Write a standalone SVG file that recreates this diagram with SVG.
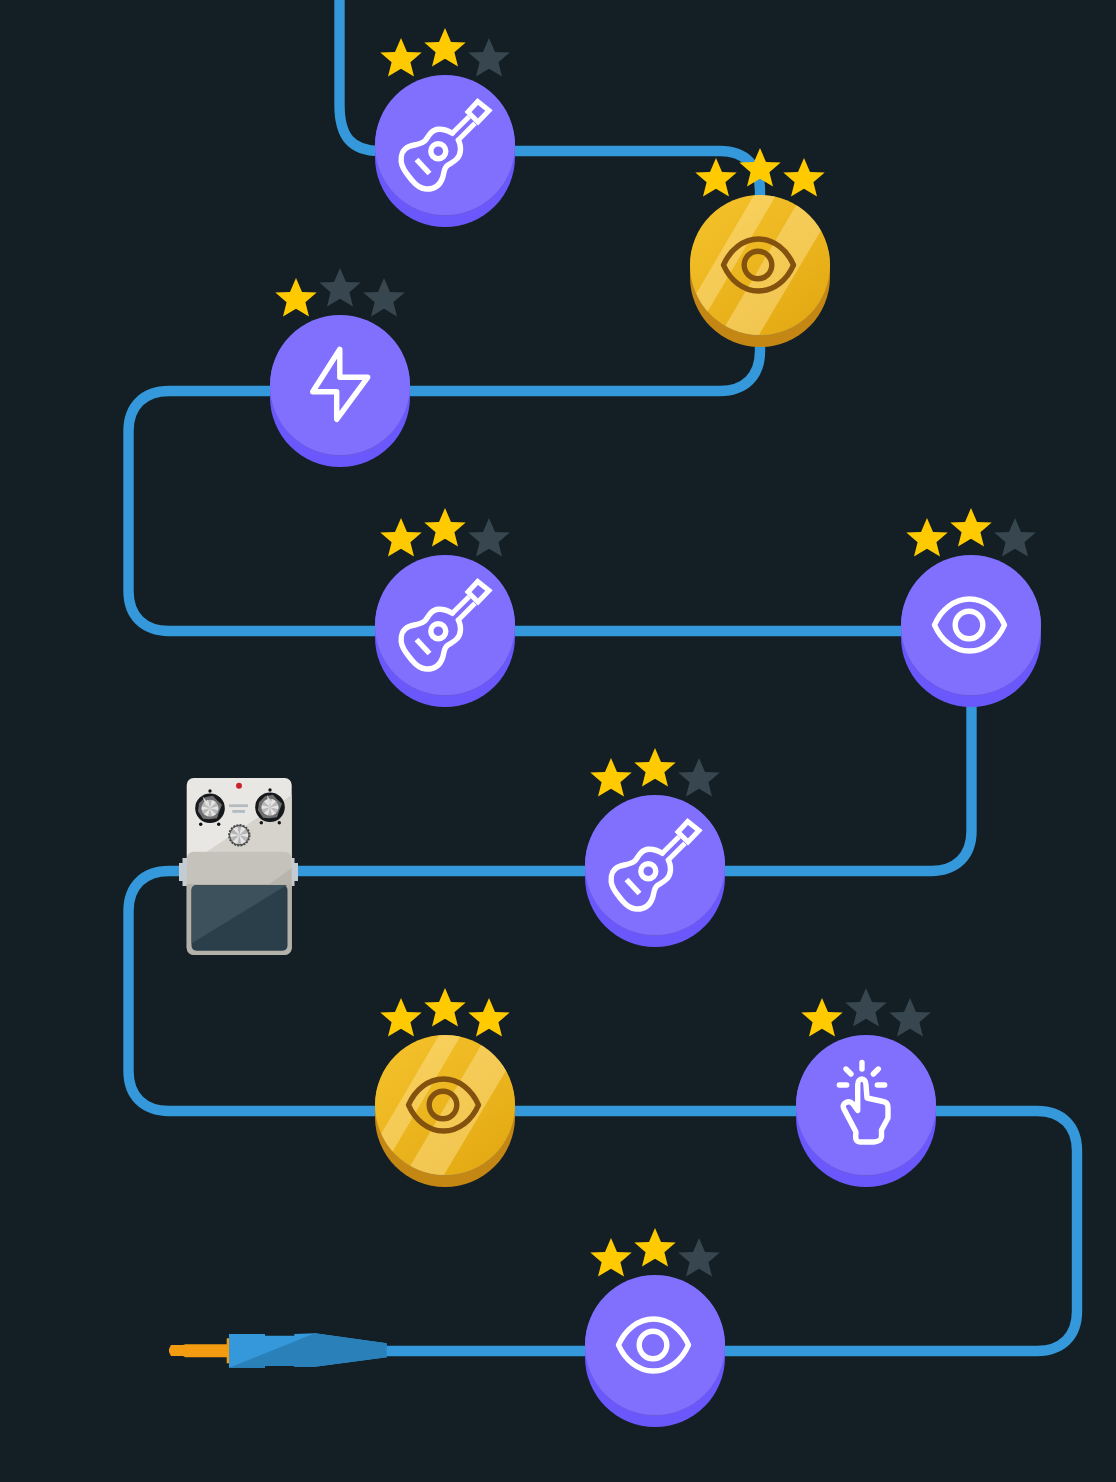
<svg xmlns="http://www.w3.org/2000/svg" width="1116" height="1482" viewBox="0 0 1116 1482">
<style>
svg{color:#fff}
.gold{color:#83520f}
.ico{fill:none;stroke:currentColor;stroke-width:5.400;stroke-linecap:round;stroke-linejoin:round}
.wire{fill:none;stroke:#3498db;stroke-width:10.400}
.on{fill:#ffcb00}.off{fill:#37464f}
.face-light{fill:#e4e4e4}
</style>
<defs>
<linearGradient id="goldFace" x1="0.15" y1="0" x2="0.85" y2="1"><stop offset="0" stop-color="#f4c22b"/><stop offset="1" stop-color="#e3a812"/></linearGradient>
<clipPath id="faceClip"><circle r="70"/></clipPath>
<polygon id="star" points="0,-21 6,-7 20.700,-6.500 9.400,3.200 13,17.500 0,9.800 -13,17.500 -9.400,3.200 -20.700,-6.500 -6,-7"/>
<g id="purpleDisc"><circle cy="12" r="70" fill="#6b58fd"/><circle cy="1" r="70" fill="#6a5ce0"/><circle r="70" fill="#8170fe"/></g>
<g id="goldDisc"><circle cy="12" r="70" fill="#c48714"/><circle cy="1" r="70" fill="#b98a2a"/><circle r="70" fill="url(#goldFace)"/>
<g clip-path="url(#faceClip)" fill="#ffe59a" fill-opacity=".45"><polygon points="0,-80 22,-80 -72,80 -94,80"/><polygon points="48,-80 88,-80 -7,80 -46,80"/></g></g>
<g id="guitar" class="ico">
<path d="M32.700,-43.500 44,-34.500 33,-23 23,-33Z" style="stroke-linejoin:miter;stroke-width:5"/>
<path d="M24,-28.300 7.300,-11.700M30,-21.700 13.300,-5" style="stroke-linecap:butt;stroke-width:5"/>
<path d="M7.300,-11.700C2,-15 -3,-16 -6.700,-15.700C-13,-15.300 -16,-10 -19.300,-5C-22,-1 -30,-0.500 -36,1.500C-42,4 -44.500,10 -43.800,16.700C-43,24 -38,29 -33.300,35C-30,39 -26,43.500 -19,44C-10,44.500 -5,40 -2.500,33C-0.500,27 -1.500,23 3,20C8,17 15,14 15.500,5C15.700,1 15,-2 13.300,-5"/>
<circle cx="-6.700" cy="6.200" r="7.500"/>
<path d="M-28.500,14.500 -15.500,28.500" style="stroke-linecap:butt"/>
</g>
<g id="eye" class="ico">
<path d="M-36.500,0C-30,-15 -17,-26 -1.500,-26C14,-26 27,-15 33.500,0C27,15 14,26 -1.500,26C-17,26 -30,15 -36.500,0Z"/>
<circle cx="-2" r="13.800"/>
</g>
<g id="knobFace">
<circle r="14.800" fill="#16191b"/>
<path d="M-5,-11 3,-12.500 6,-9 12,-3.500 9,4 7,10 -1,11 -7,10.500 -12,3 -11,-5Z" fill="#6f6f6f"/>
<circle r="8.500" fill="#b9b9b9"/>
<path class="face-light" d="M0,0 2,-8.300 6,-6ZM0,0 8.300,-2 8.300,2ZM0,0 6,6 2,8.300ZM0,0 -2,8.300 -6,6ZM0,0 -8.300,2 -8.300,-2ZM0,0 -6,-6 -2,-8.300Z"/>
</g>
</defs>
<rect width="1116" height="1482" fill="#131f24"/>

<g id="connectors">
<path class="wire" d="M339.500,0V105C339.500,136 351,151 380,151H720C745,151 760,166 760,191V351C760,376 745,391 720,391H169C144,391 128.500,406 128.500,431V591C128.500,616 144,631 169,631H931C956,631 971.500,646 971.500,671V831C971.500,856 956,871 931,871H169C144,871 128.500,886 128.500,911V1071C128.500,1096 144,1111 169,1111H1037C1062,1111 1077,1126 1077,1151V1311C1077,1336 1062,1351 1037,1351H380"/>
</g>

<g id="node-guitar-1" transform="translate(445,145)">
<use href="#purpleDisc"/><use href="#guitar"/>
<use href="#star" class="on" x="-44" y="-86"/><use href="#star" class="on" y="-96"/><use href="#star" class="off" x="44" y="-86"/>
</g>
<g id="node-eye-gold-1" class="gold" transform="translate(760,265)">
<use href="#goldDisc"/><use href="#eye"/>
<use href="#star" class="on" x="-44" y="-86"/><use href="#star" class="on" y="-96"/><use href="#star" class="on" x="44" y="-86"/>
</g>
<g id="node-bolt" transform="translate(340,385)">
<use href="#purpleDisc"/>
<path class="ico" d="M-0.200,-35.700V-7.700H27.700L-3.300,34.300V6.700H-27.300Z"/>
<use href="#star" class="on" x="-44" y="-86"/><use href="#star" class="off" y="-96"/><use href="#star" class="off" x="44" y="-86"/>
</g>
<g id="node-guitar-2" transform="translate(445,625)">
<use href="#purpleDisc"/><use href="#guitar"/>
<use href="#star" class="on" x="-44" y="-86"/><use href="#star" class="on" y="-96"/><use href="#star" class="off" x="44" y="-86"/>
</g>
<g id="node-eye-1" transform="translate(971,625)">
<use href="#purpleDisc"/><use href="#eye"/>
<use href="#star" class="on" x="-44" y="-86"/><use href="#star" class="on" y="-96"/><use href="#star" class="off" x="44" y="-86"/>
</g>
<g id="node-guitar-3" transform="translate(655,865)">
<use href="#purpleDisc"/><use href="#guitar"/>
<use href="#star" class="on" x="-44" y="-86"/><use href="#star" class="on" y="-96"/><use href="#star" class="off" x="44" y="-86"/>
</g>

<g id="node-pedal">
<rect x="179" y="863" width="119" height="18" fill="#c3ccd2"/>
<rect x="182.500" y="858" width="112" height="28" fill="#c3ccd2"/>
<rect x="186.700" y="778" width="105" height="90" rx="7" fill="#e9e7e3"/>
<path d="M291.700,795V868H186.700V865L206.700,851.700Z" fill="#d6d3cd"/>
<rect x="186.700" y="851.700" width="105" height="103" rx="7" fill="#c5c2bc"/>
<path d="M291.700,868 268,885H291.700Z" fill="#b8b5ad"/>
<path d="M186.700,884H291.700V948A7,7 0 0 1 284.700,955H193.700A7,7 0 0 1 186.700,948Z" fill="#b4b1aa"/>
<rect x="191.500" y="885" width="96" height="65.700" rx="5" fill="#2b3f4b"/>
<path d="M287,885H196.500A5,5 0 0 0 191.500,890V943.500Z" fill="#3d515c"/>
<circle cx="239" cy="785.700" r="3" fill="#c9242e"/>
<rect x="229" y="804.300" width="19" height="2.800" fill="#b4bcc2"/>
<rect x="232.300" y="810" width="12.700" height="2.800" fill="#b4bcc2"/>
<g fill="#111">
<circle cx="210" cy="791" r="1.700"/><circle cx="200.700" cy="824.300" r="1.700"/><circle cx="218.700" cy="824.300" r="1.700"/>
<circle cx="270" cy="790" r="1.700"/><circle cx="261.300" cy="822.700" r="1.700"/><circle cx="279.300" cy="822.700" r="1.700"/>
</g>
<g id="knob-left" transform="translate(210,808.300)">
<use href="#knobFace"/>
<path d="M-7.500,-12 -1,-4 -4,-2.500Z" fill="#ddd"/>
</g>
<g id="knob-right" transform="translate(270,807.300)">
<use href="#knobFace"/>
<path d="M-3,-12.500 2,-4 -1.500,-3Z" fill="#ddd"/>
</g>
<g id="knob-small" transform="translate(239.300,835.300)">
<circle r="10.200" fill="#555" stroke="#4a4a4a" stroke-width="2" stroke-dasharray="2 1.200"/>
<circle r="9" fill="#b5b5b5"/>
<path class="face-light" d="M0,0 2,-8.800 6.500,-6.500ZM0,0 8.800,-2 8.800,2ZM0,0 6.500,6.500 2,8.800ZM0,0 -2,8.800 -6.500,6.500ZM0,0 -8.800,2 -8.800,-2ZM0,0 -6.500,-6.500 -2,-8.800Z"/>
</g>
</g>

<g id="node-eye-gold-2" class="gold" transform="translate(445,1105)">
<use href="#goldDisc"/><use href="#eye"/>
<use href="#star" class="on" x="-44" y="-86"/><use href="#star" class="on" y="-96"/><use href="#star" class="on" x="44" y="-86"/>
</g>
<g id="node-tap" transform="translate(866,1105)">
<use href="#purpleDisc"/>
<g class="ico">
<path d="M-4,-42.500V-36M-20,-36 -15,-31M12.300,-36 7.300,-31M-26.700,-20H-19.300M11.300,-20H18.700"/>
<path d="M-8.300,5.500V-20C-8.300,-28 0,-28 0,-20L1,-7 17,-3.500C20,-3 22,-1 22,2.500V13L15.500,25V32C15,35 12,37 8,37H-6C-10,37 -11,34 -10,27L-21,6C-24,1 -23,-1 -20,-2.500C-17,-4 -15,-3 -13,-1Z"/>
</g>
<use href="#star" class="on" x="-44" y="-86"/><use href="#star" class="off" y="-96"/><use href="#star" class="off" x="44" y="-86"/>
</g>
<g id="node-eye-2" transform="translate(655,1345)">
<use href="#purpleDisc"/><use href="#eye"/>
<use href="#star" class="on" x="-44" y="-86"/><use href="#star" class="on" y="-96"/><use href="#star" class="off" x="44" y="-86"/>
</g>

<g id="node-plug">
<path d="M171,1345H183L185.500,1344.300H229V1357.300H185.500L183,1356H171L169,1352V1349Z" fill="#f39c12"/>
<rect x="226.700" y="1338.300" width="3" height="25" fill="#f39c12"/>
<path d="M229,1334H265V1335.700H294.300V1334L315,1333.300 386.700,1343.300V1357.300L315,1366.700H294.300V1366H265V1367.700H229Z" fill="#3498db"/>
<path d="M229,1367.700 315,1333.300 386.700,1343.300V1357.300L315,1366.700H294.300V1366H265V1367.700Z" fill="#2a80b8"/>
</g>
</svg>
